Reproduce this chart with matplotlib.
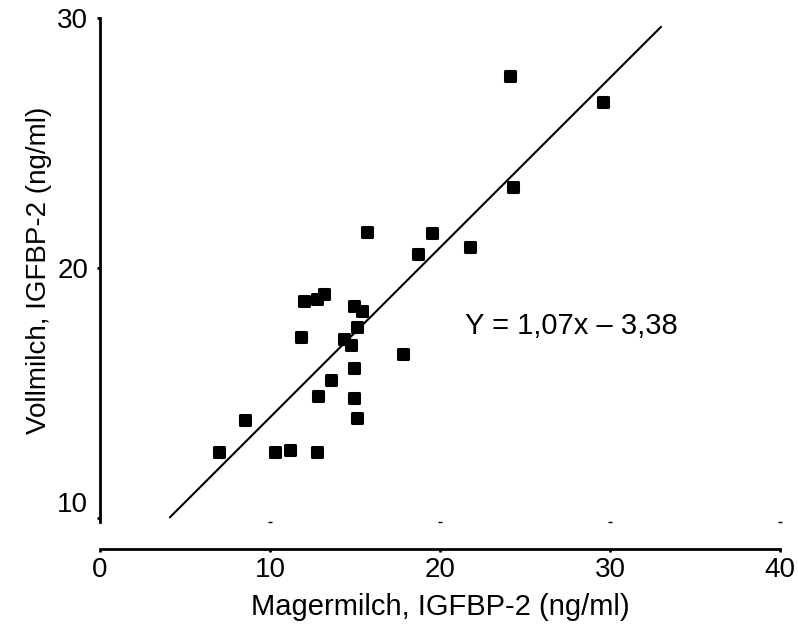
# Scatter of IGFBP-2 in skimmed vs whole milk with the fitted line.

import matplotlib.pyplot as plt
from matplotlib.markers import MarkerStyle

plt.rcParams['font.family'] = ['Liberation Sans', 'DejaVu Sans']

# Measured values (ng/ml)
magermilch = [7.02, 8.55, 10.31, 11.18, 12.75, 11.82, 12.0, 12.75, 13.18,
              12.84, 13.59, 14.37, 14.75, 14.96, 15.39, 15.10, 14.96, 14.96,
              15.10, 15.72, 17.85, 18.72, 19.55, 21.78, 24.14, 24.31, 29.59]
vollmilch = [12.65, 13.94, 12.65, 12.75, 12.64, 17.26, 18.70, 18.78, 18.98,
             14.91, 15.54, 17.18, 16.93, 18.51, 18.30, 17.65, 16.01, 14.83,
             14.01, 21.47, 16.58, 20.58, 21.41, 20.85, 27.70, 23.27, 26.65]

# Regression line as drawn in the figure
fit_x = [4.12, 33.0]
fit_y = [10.05, 29.66]
equation = 'Y = 1,07x \u2013 3,38'

x_ticks = [0, 10, 20, 30, 40]
y_ticks = [10, 20, 30]

fig = plt.figure(figsize=(7.98, 6.37), dpi=100)
ax = fig.add_axes([0.1253, 0.181, 0.852, 0.790])

# Fitted line
ax.plot(fit_x, fit_y, color='black', linewidth=1.5)

# Data points: squares with rounded corners
square = MarkerStyle('s', joinstyle='round')
ax.plot(magermilch, vollmilch, linestyle='none', marker=square, markersize=6.5,
        color='black', markeredgewidth=2.2)

ax.text(21.5, 17.7, equation, fontsize=21, ha='left', va='center')

ax.set_xlim(0, 40)
ax.set_ylim(9.87, 30)
ax.set_xticks(x_ticks)
ax.set_yticks(y_ticks)

# Small dashes where the plot floor meets each x tick
ax.plot(x_ticks[1:], [9.87] * 4, linestyle='none', marker='_', markersize=3,
        color='black', markeredgewidth=1, clip_on=False)

ax.spines['top'].set_visible(False)
ax.spines['right'].set_visible(False)
ax.spines['left'].set_linewidth(2)
ax.spines['bottom'].set_linewidth(2)
ax.spines['bottom'].set_position(('outward', 19.4))

ax.tick_params(axis='both', labelsize=20, length=2.5, width=2)
ax.tick_params(axis='y', pad=6)
# the lowest y label sits just above its tick
ax.get_yticklabels()[0].set_verticalalignment('bottom')

ax.set_xlabel('Magermilch, IGFBP-2 (ng/ml)', fontsize=21, labelpad=7)
ax.set_ylabel('Vollmilch, IGFBP-2 (ng/ml)', fontsize=20, labelpad=4)

fig.savefig('out.png', dpi=100)
